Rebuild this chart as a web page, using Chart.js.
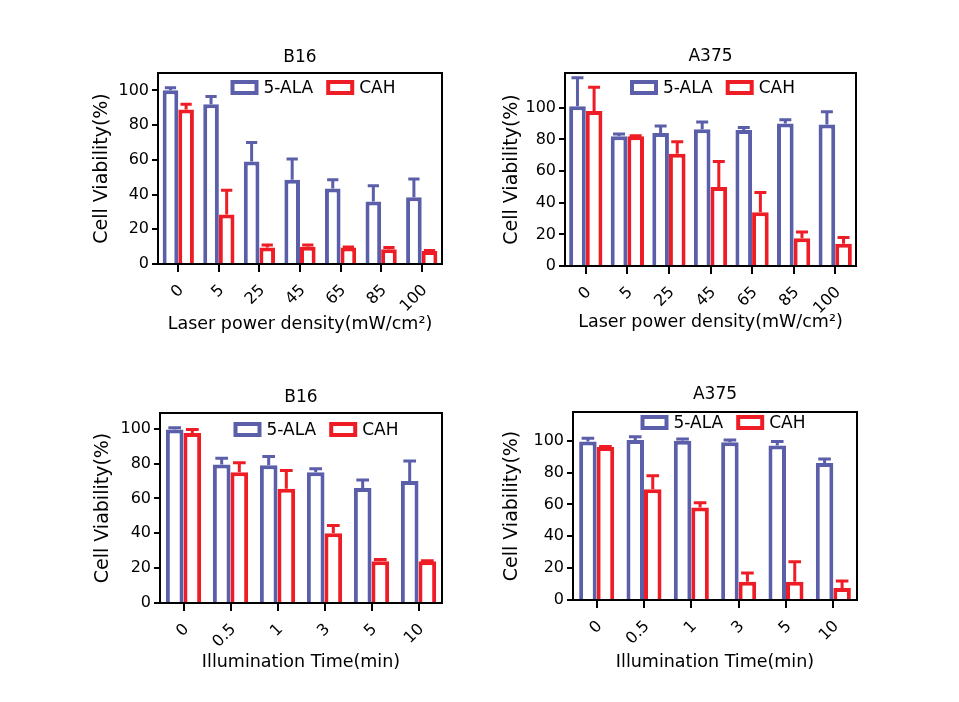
<html><head>
<title>Cell viability</title>
<script src="https://cdn.jsdelivr.net/npm/chart.js"></script>
<style>
  body {
    margin: 0;
    background: #fff;
  }
  #page {
    position: relative;
    width: 959px;
    height: 702px;
    background: #fff;
  }
  .panel {
    position: absolute;
    width: 400px;
    height: 305px;
  }
</style>
</head>
<body>
<div id="page">
  <div class="panel" style="left:80px;top:35px"><canvas id="b16Laser"></canvas></div>
  <div class="panel" style="left:490px;top:35px"><canvas id="a375Laser"></canvas></div>
  <div class="panel" style="left:80px;top:375px"><canvas id="b16Time"></canvas></div>
  <div class="panel" style="left:490px;top:375px"><canvas id="a375Time"></canvas></div>
</div>

<script>
// categories and tick labels
const laserLabels = ['0', '5', '25', '45', '65', '85', '100'];
const timeLabels = ['0', '0.5', '1', '3', '5', '10'];
const seriesNames = ['5-ALA', 'CAH'];
const yTicks = [0, 20, 40, 60, 80, 100];

// B16, laser power density
const b16LaserAla = [100, 92, 59, 48.5, 43.5, 36, 38.5];
const b16LaserAlaSd = [1.5, 4.5, 11, 12, 5, 9, 10.5];
const b16LaserCah = [89, 28.5, 9.5, 10, 9.5, 8.5, 7.5];
const b16LaserCahSd = [3, 14, 1.5, 1, 0.3, 1, 0.3];

// A375, laser power density
const a375LaserAla = [101, 82, 84, 86.5, 86, 90, 89.5];
const a375LaserAlaSd = [18, 1.5, 4.5, 4.5, 1.5, 2.5, 8];
const a375LaserCah = [98, 82, 71, 50, 34, 17.5, 14];
const a375LaserCahSd = [15, 0.3, 7.5, 16, 12.5, 4, 4];

// B16, illumination time
const b16TimeAla = [99.5, 79.5, 79, 75, 66, 70];
const b16TimeAlaSd = [1, 3.5, 5, 2, 4.5, 11.5];
const b16TimeCah = [97.5, 75, 65.5, 40, 24, 24];
const b16TimeCahSd = [2, 5.5, 10.5, 4.5, 1, 0.3];

// A375, illumination time
const a375TimeAla = [99.5, 100.5, 100, 99, 97, 86];
const a375TimeAlaSd = [2, 2, 1, 1.5, 2.5, 2.5];
const a375TimeCah = [96, 69.5, 58, 11.5, 11.5, 7.5];
const a375TimeCahSd = [0.3, 8.5, 3, 5.5, 12.5, 4.5];

const BLUE = '#5b5ea8';
const RED = '#ee1c25';
const FONT = '"DejaVu Sans", sans-serif';

Chart.defaults.font.family = FONT;
Chart.defaults.color = '#000';

// upward error bars with a cap, same colour as the bar
const errorBars = {
  id: 'errorBars',
  afterDatasetsDraw(chart) {
    const ctx = chart.ctx;
    const yScale = chart.scales.y;
    chart.data.datasets.forEach((ds, i) => {
      const meta = chart.getDatasetMeta(i);
      meta.data.forEach((bar, j) => {
        const yTop = yScale.getPixelForValue(ds.data[j] + ds.sd[j]);
        const half = bar.width * 0.36;
        ctx.save();
        ctx.strokeStyle = ds.borderColor;
        ctx.lineWidth = 3;
        ctx.beginPath();
        ctx.moveTo(bar.x, bar.y);
        ctx.lineTo(bar.x, yTop);
        ctx.moveTo(bar.x - half, yTop);
        ctx.lineTo(bar.x + half, yTop);
        ctx.stroke();
        ctx.restore();
      });
    });
  }
};

// legend drawn inside the plot, near the top
const insideLegend = {
  id: 'insideLegend',
  afterDraw(chart, args, opts) {
    const ctx = chart.ctx;
    const a = chart.chartArea;
    ctx.save();
    ctx.font = opts.fontSize + 'px ' + FONT;
    const items = chart.data.datasets.map(ds => ({ ds: ds, w: ctx.measureText(ds.label).width }));
    let total = opts.itemGap * (items.length - 1);
    items.forEach(it => { total += opts.boxWidth + opts.textGap + it.w; });
    let x = (a.left + a.right) / 2 - total / 2 + opts.offsetX;
    const y = a.top + opts.offsetY;
    items.forEach(it => {
      const lw = it.ds.borderWidth;
      ctx.fillStyle = '#fff';
      ctx.fillRect(x, y, opts.boxWidth, opts.boxHeight);
      ctx.strokeStyle = it.ds.borderColor;
      ctx.lineWidth = lw;
      ctx.strokeRect(x + lw / 2, y + lw / 2, opts.boxWidth - lw, opts.boxHeight - lw);
      ctx.fillStyle = '#000';
      ctx.textAlign = 'left';
      ctx.textBaseline = 'middle';
      ctx.fillText(it.ds.label, x + opts.boxWidth + opts.textGap, y + opts.boxHeight / 2 + 1);
      x += opts.boxWidth + opts.textGap + it.w + opts.itemGap;
    });
    ctx.restore();
  }
};

// black box round the plot area
const frame = {
  id: 'frame',
  afterDraw(chart) {
    const a = chart.chartArea;
    const ctx = chart.ctx;
    ctx.save();
    ctx.strokeStyle = '#000';
    ctx.lineWidth = 2;
    ctx.strokeRect(a.left, a.top, a.right - a.left, a.bottom - a.top);
    ctx.restore();
  }
};

function makeChart(id, cfg) {
  new Chart(document.getElementById(id), {
    type: 'bar',
    data: {
      labels: cfg.labels,
      datasets: [
        {
          label: seriesNames[0],
          data: cfg.ala,
          sd: cfg.alaSd,
          backgroundColor: '#fff',
          borderColor: BLUE,
          borderWidth: 4
        },
        {
          label: seriesNames[1],
          data: cfg.cah,
          sd: cfg.cahSd,
          backgroundColor: '#fff',
          borderColor: RED,
          borderWidth: 4
        }
      ]
    },
    options: {
      responsive: true,
      maintainAspectRatio: false,
      animation: false,
      datasets: {
        bar: {
          categoryPercentage: cfg.catPct,
          barPercentage: 1
        }
      },
      layout: {
        padding: { left: 0, right: cfg.padRight, top: 0, bottom: 0 }
      },
      plugins: {
        tooltip: { enabled: false },
        legend: { display: false },
        title: {
          display: true,
          text: cfg.title,
          fullSize: false,
          font: { size: 17, weight: 'normal' },
          padding: { top: cfg.titleTop, bottom: cfg.titleBottom }
        },
        insideLegend: {
          fontSize: 17,
          boxWidth: 28,
          boxHeight: 15,
          textGap: 5,
          itemGap: 13,
          offsetX: cfg.legendX,
          offsetY: cfg.legendY
        }
      },
      scales: {
        x: {
          grid: {
            offset: false,
            drawOnChartArea: false,
            drawTicks: true,
            tickLength: 8,
            color: '#000',
            lineWidth: 2
          },
          border: { display: true, color: '#000', width: 2 },
          ticks: {
            font: { size: 16 },
            minRotation: 45,
            maxRotation: 45,
            padding: 9,
            labelOffset: 3
          },
          title: {
            display: true,
            text: cfg.xTitle,
            font: { size: 17.5 },
            padding: { top: 0, bottom: cfg.xTitleBottom }
          },
          afterFit(scale) { scale.height = cfg.xAxisHeight; }
        },
        y: {
          min: 0,
          max: cfg.yMax,
          grid: {
            drawOnChartArea: false,
            drawTicks: true,
            tickLength: 6,
            color: '#000',
            lineWidth: 2
          },
          border: { display: true, color: '#000', width: 2 },
          ticks: {
            font: { size: 16 },
            padding: 3
          },
          afterBuildTicks(scale) {
            scale.ticks = yTicks.map(v => ({ value: v }));
          },
          title: {
            display: true,
            text: 'Cell Viability(%)',
            font: { size: 19 },
            padding: { top: cfg.yTitleTop, bottom: 0 }
          },
          afterFit(scale) { scale.width = cfg.yAxisWidth; }
        }
      }
    },
    plugins: [errorBars, insideLegend, frame]
  });
}

makeChart('b16Laser', {
  title: 'B16',
  labels: laserLabels,
  ala: b16LaserAla, alaSd: b16LaserAlaSd,
  cah: b16LaserCah, cahSd: b16LaserCahSd,
  xTitle: 'Laser power density(mW/cm²)',
  yMax: 110, catPct: 0.77,
  padRight: 38, yAxisWidth: 78, yTitleTop: 10.6,
  titleTop: 12.8, titleBottom: 4.8,
  xAxisHeight: 76, xTitleBottom: 4.8,
  legendX: 13, legendY: 7
});

makeChart('a375Laser', {
  title: 'A375',
  labels: laserLabels,
  ala: a375LaserAla, alaSd: a375LaserAlaSd,
  cah: a375LaserCah, cahSd: a375LaserCahSd,
  xTitle: 'Laser power density(mW/cm²)',
  yMax: 122, catPct: 0.8,
  padRight: 34, yAxisWidth: 75, yTitleTop: 10.6,
  titleTop: 11.8, titleBottom: 5.8,
  xAxisHeight: 74, xTitleBottom: 6.8,
  legendX: 2, legendY: 7
});

makeChart('b16Time', {
  title: 'B16',
  labels: timeLabels,
  ala: b16TimeAla, alaSd: b16TimeAlaSd,
  cah: b16TimeCah, cahSd: b16TimeCahSd,
  xTitle: 'Illumination Time(min)',
  yMax: 109, catPct: 0.75,
  padRight: 38, yAxisWidth: 80, yTitleTop: 11.6,
  titleTop: 12.8, titleBottom: 4.8,
  xAxisHeight: 77, xTitleBottom: 6.8,
  legendX: 15, legendY: 9
});

makeChart('a375Time', {
  title: 'A375',
  labels: timeLabels,
  ala: a375TimeAla, alaSd: a375TimeAlaSd,
  cah: a375TimeCah, cahSd: a375TimeCahSd,
  xTitle: 'Illumination Time(min)',
  yMax: 118, catPct: 0.74,
  padRight: 33, yAxisWidth: 83, yTitleTop: 10.6,
  titleTop: 9.8, titleBottom: 6.8,
  xAxisHeight: 80, xTitleBottom: 6.8,
  legendX: 8, legendY: 3
});
</script>
</body></html>
